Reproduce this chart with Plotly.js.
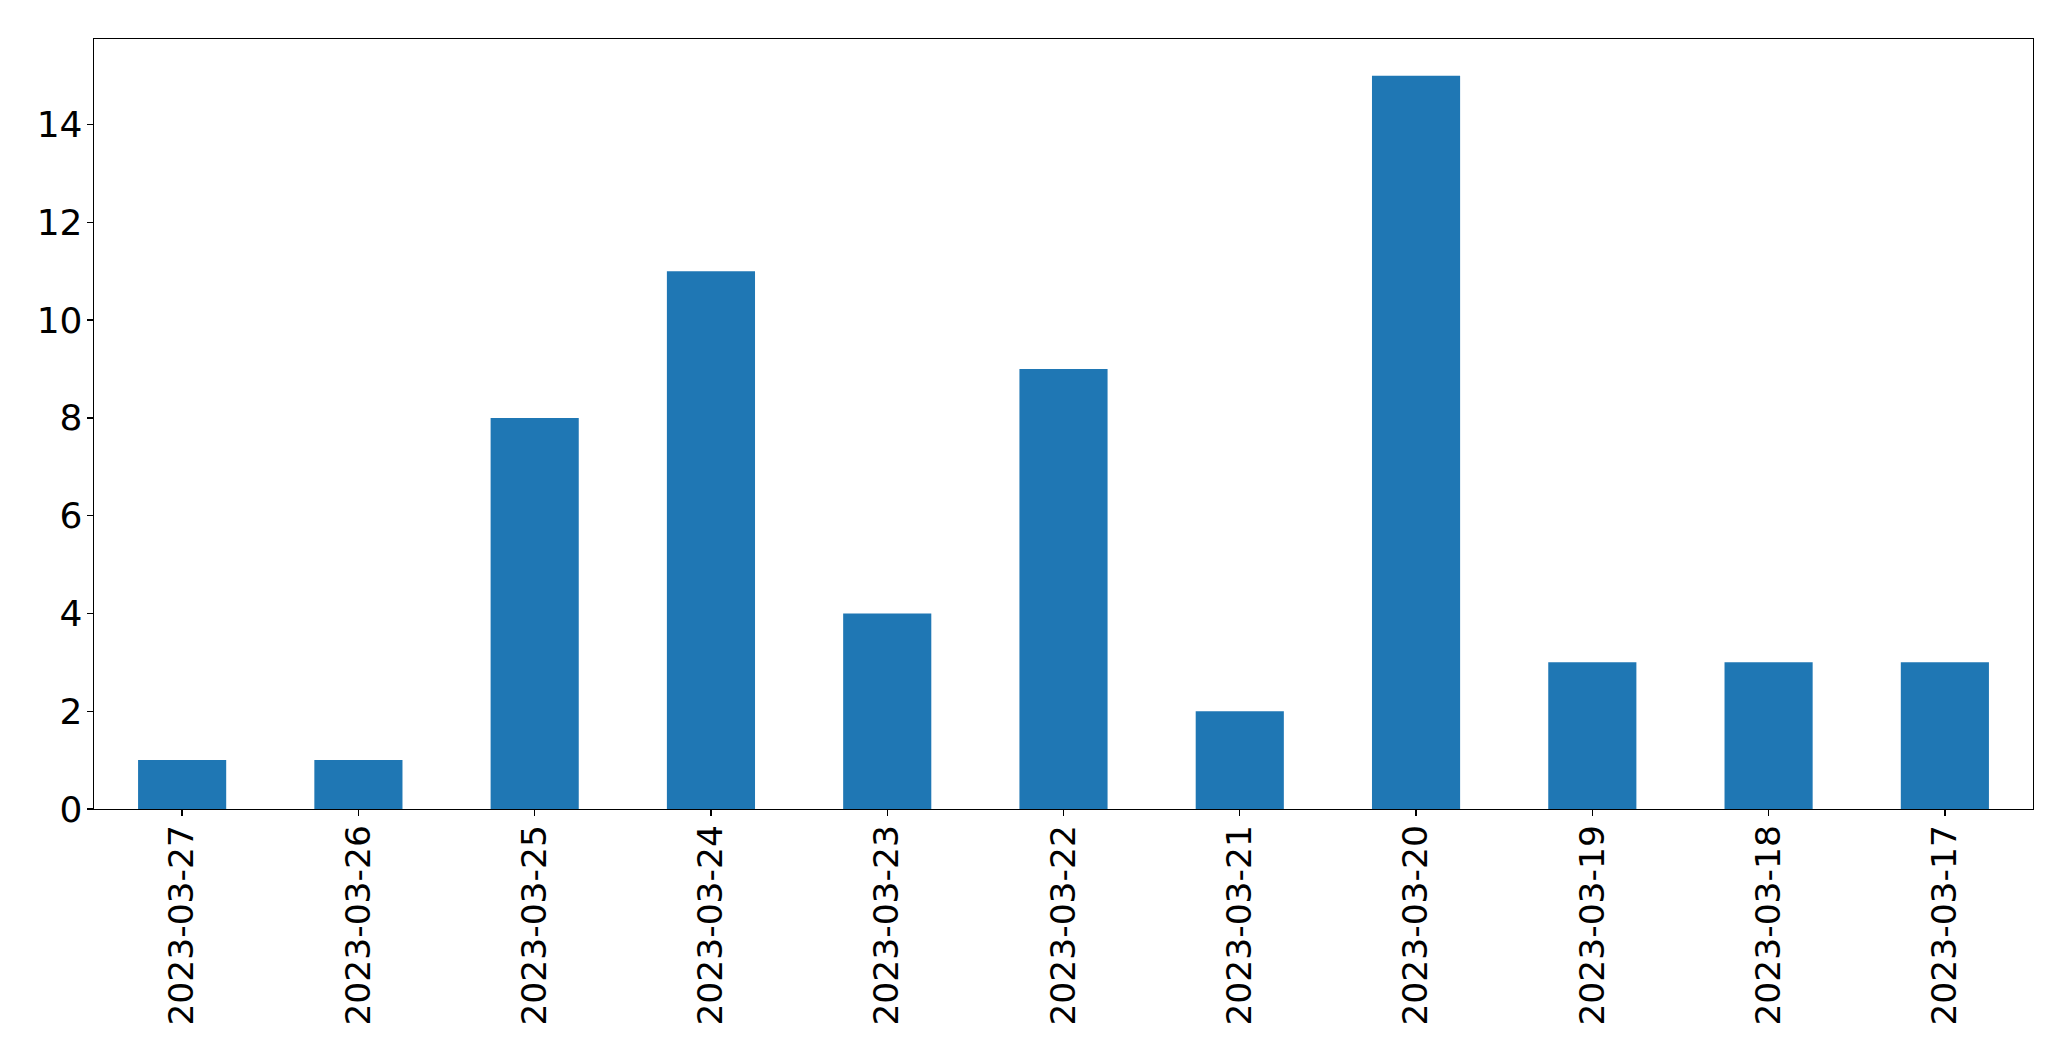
<!DOCTYPE html>
<html>
<head>
<meta charset="utf-8">
<script src="https://cdn.plot.ly/plotly-3.0.1.min.js"></script>
<style>html,body{margin:0;padding:0;background:#fff;}#chart{width:2071px;height:1061px;}</style>
</head>
<body>
<div id="chart"></div>
<script>
const dates = ["2023-03-27","2023-03-26","2023-03-25","2023-03-24","2023-03-23","2023-03-22","2023-03-21","2023-03-20","2023-03-19","2023-03-18","2023-03-17"];
const counts = [1,1,8,11,4,9,2,15,3,3,3];
const yTicks = [0,2,4,6,8,10,12,14];

const trace = {
  type: 'bar',
  x: dates,
  y: counts,
  width: 0.5,
  marker: {color: '#1f77b4', line: {width: 0}},
  hoverinfo: 'x+y'
};

const xfont = {family: 'DejaVu Sans', size: 34.5, color: '#000'};
const yfont = {family: 'DejaVu Sans', size: 36, color: '#000'};
const layout = {
  width: 2071, height: 1061,
  margin: {l: 94, r: 38, t: 39, b: 252, pad: 0},
  paper_bgcolor: '#fff', plot_bgcolor: '#fff',
  showlegend: false,
  font: xfont,
  bargap: 0.5,
  xaxis: {
    type: 'category',
    range: [-0.5, 10.5],
    tickangle: -90,
    ticks: 'outside', ticklen: 6, tickwidth: 1.3, tickcolor: '#000',
    showline: true, linecolor: '#000', linewidth: 1.3, mirror: true,
    showgrid: false, zeroline: false,
    ticklabelstandoff: -5,
    tickfont: xfont
  },
  yaxis: {
    range: [0, 15.75],
    tickvals: yTicks,
    ticktext: yTicks.map(String),
    ticks: 'outside', ticklen: 6, tickwidth: 1.3, tickcolor: '#000',
    showline: true, linecolor: '#000', linewidth: 1.3, mirror: true,
    showgrid: false, zeroline: false,
    ticklabelstandoff: -3,
    tickfont: yfont
  }
};

Plotly.newPlot('chart', [trace], layout, {displayModeBar: false, staticPlot: true});
</script>
</body>
</html>
